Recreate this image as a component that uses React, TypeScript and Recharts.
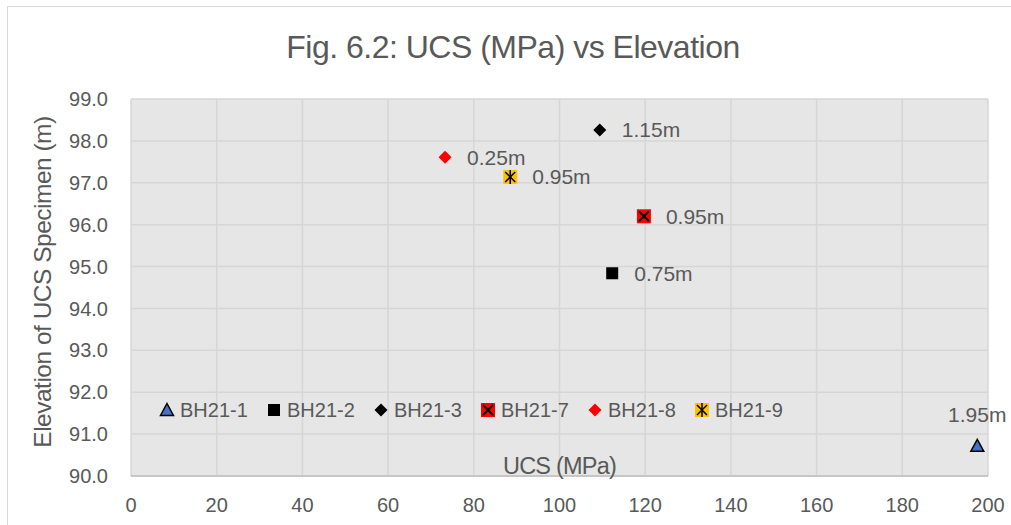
import React from 'react';
import { ScatterChart, Scatter, XAxis, YAxis, CartesianGrid } from 'recharts';

const seriesNames = ['BH21-1', 'BH21-2', 'BH21-3', 'BH21-7', 'BH21-8', 'BH21-9'];
const ucsValues = [197.5, 112.3, 109.4, 119.7, 73.3, 88.5];
const elevationValues = [90.72, 94.84, 98.26, 96.2, 97.61, 97.14];
const depthLabels = ['1.95m', '0.75m', '1.15m', '0.95m', '0.25m', '0.95m'];
const labelPlacement = ['top', 'right', 'right', 'right', 'right', 'right'];
const markerKinds = ['triangle', 'square', 'diamondBlack', 'xSquare', 'diamondRed', 'starSquare'];
const xTicks = [0, 20, 40, 60, 80, 100, 120, 140, 160, 180, 200];
const yTicks = [90, 91, 92, 93, 94, 95, 96, 97, 98, 99];

const FONT = "'Liberation Sans', Arial, sans-serif";
const TEXT = '#595959';

function Marker({ kind, cx, cy }: { kind: string; cx: number; cy: number }) {
  switch (kind) {
    case 'triangle':
      return <polygon points={`${cx},${cy - 6.5} ${cx + 6.5},${cy + 5.5} ${cx - 6.5},${cy + 5.5}`} fill="#4472c4" stroke="#000" strokeWidth={1.5} strokeLinejoin="miter" />;
    case 'square':
      return <rect x={cx - 6} y={cy - 6} width={12} height={12} fill="#000" />;
    case 'diamondBlack':
      return <polygon points={`${cx},${cy - 6.5} ${cx + 6.5},${cy} ${cx},${cy + 6.5} ${cx - 6.5},${cy}`} fill="#000" />;
    case 'diamondRed':
      return <polygon points={`${cx},${cy - 6.5} ${cx + 6.5},${cy} ${cx},${cy + 6.5} ${cx - 6.5},${cy}`} fill="#ff0000" />;
    case 'xSquare':
      return (
        <g>
          <rect x={cx - 7} y={cy - 7} width={14} height={14} fill="#ff0000" />
          <line x1={cx - 5} y1={cy - 5} x2={cx + 5} y2={cy + 5} stroke="#000" strokeWidth={2} />
          <line x1={cx + 5} y1={cy - 5} x2={cx - 5} y2={cy + 5} stroke="#000" strokeWidth={2} />
        </g>
      );
    case 'starSquare':
      return (
        <g>
          <rect x={cx - 7} y={cy - 7} width={14} height={14} fill="#ffc000" />
          <line x1={cx - 5} y1={cy - 5} x2={cx + 5} y2={cy + 5} stroke="#000" strokeWidth={1.5} />
          <line x1={cx + 5} y1={cy - 5} x2={cx - 5} y2={cy + 5} stroke="#000" strokeWidth={1.5} />
          <line x1={cx} y1={cy - 7} x2={cx} y2={cy + 7} stroke="#000" strokeWidth={1.5} />
        </g>
      );
    default:
      return null;
  }
}

function makeShape(kind: string, placement: string) {
  return (props: any) => {
    const { cx, cy, payload } = props;
    const label = payload?.label;
    return (
      <g>
        <Marker kind={kind} cx={cx} cy={cy} />
        {placement === 'top' ? (
          <text x={cx} y={cy - 31} textAnchor="middle" dominantBaseline="central" fontSize={21} fill={TEXT} fontFamily={FONT}>{label}</text>
        ) : (
          <text x={cx + 22} y={cy} textAnchor="start" dominantBaseline="central" fontSize={21} fill={TEXT} fontFamily={FONT}>{label}</text>
        )}
      </g>
    );
  };
}

function LegendIcon({ kind }: { kind: string }) {
  return (
    <svg width={16} height={16} style={{ display: 'block' }}>
      <Marker kind={kind} cx={8} cy={8} />
    </svg>
  );
}

export default function App() {
  return (
    <div style={{ position: 'absolute', left: 0, top: 0, width: 1011, height: 525, overflow: 'hidden', background: '#fff' }}>
      <div style={{ position: 'absolute', left: 7, top: 6, width: 1100, height: 600, border: '1.5px solid #d9d9d9', boxSizing: 'border-box' }} />
      <div style={{ position: 'absolute', left: 13, top: 27, width: 1000, textAlign: 'center', fontFamily: FONT, fontSize: 32, color: TEXT, letterSpacing: -0.5, lineHeight: '40px' }}>
        Fig. 6.2: UCS (MPa) vs Elevation
      </div>
      <div style={{ position: 'absolute', left: 0, top: 0 }}>
        <ScatterChart width={1011} height={525} margin={{ top: 99, right: 23, bottom: 0, left: 0 }}>
          <CartesianGrid fill="#e6e6e6" stroke="#d6d6d6" strokeWidth={1.5} horizontalValues={yTicks} verticalValues={xTicks} />
          <XAxis
            type="number"
            dataKey="x"
            domain={[0, 200]}
            ticks={xTicks}
            height={49}
            tickLine={false}
            axisLine={{ stroke: '#bfbfbf', strokeWidth: 1.5 }}
            tickSize={0}
            tickMargin={22}
            tick={{ fill: TEXT, fontSize: 20, fontFamily: FONT }}
            label={{ value: 'UCS (MPa)', position: 'top', offset: 2, fill: TEXT, fontSize: 23.5, fontFamily: FONT, style: { letterSpacing: -0.8 } }}
          />
          <YAxis
            type="number"
            dataKey="y"
            domain={[90, 99]}
            ticks={yTicks}
            width={131}
            tickLine={false}
            axisLine={false}
            tickSize={0}
            tickMargin={23}
            tickFormatter={(v: number) => v.toFixed(1)}
            tick={{ fill: TEXT, fontSize: 20, fontFamily: FONT }}
            label={{
              content: () => (
                <text x={42} y={282} transform="rotate(-90 42 282)" textAnchor="middle" dominantBaseline="central" fontSize={24.5} fill={TEXT} fontFamily={FONT} style={{ letterSpacing: -0.5 }}>
                  Elevation of UCS Specimen (m)
                </text>
              ),
            }}
          />
          {seriesNames.map((name, i) => (
            <Scatter
              key={name}
              name={name}
              data={[{ x: ucsValues[i], y: elevationValues[i], label: depthLabels[i] }]}
              shape={makeShape(markerKinds[i], labelPlacement[i])}
              isAnimationActive={false}
            />
          ))}
        </ScatterChart>
      </div>
      <div style={{ position: 'absolute', left: 159, top: 398, display: 'flex', fontFamily: FONT, fontSize: 20, color: TEXT, lineHeight: '24px' }}>
        {seriesNames.map((name, i) => (
          <div key={name} style={{ width: 107, display: 'flex', alignItems: 'center' }}>
            <LegendIcon kind={markerKinds[i]} />
            <span style={{ marginLeft: 5 }}>{name}</span>
          </div>
        ))}
      </div>
    </div>
  );
}
